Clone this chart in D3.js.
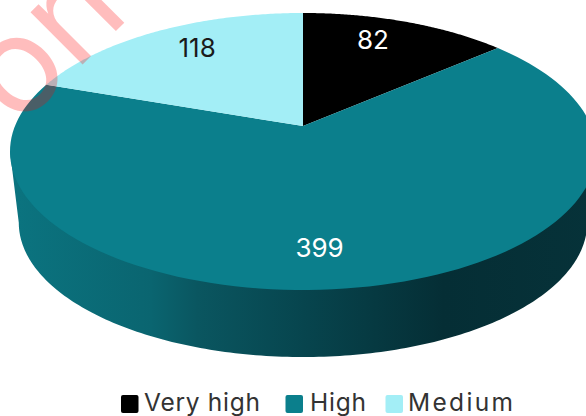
<!DOCTYPE html>
<html><head><meta charset="utf-8">
<script src="https://cdn.jsdelivr.net/npm/d3@7"></script>
<style>html,body{margin:0;padding:0;background:#fff}svg{display:block}</style>
</head><body><svg id="c" width="586" height="416"></svg>
<script>
const categories = ["Very high", "High", "Medium"];
const values = [82, 399, 118];
const colors = ["#000000", "#0b7f8c", "#a3eef6"];
const labelColors = ["#ffffff", "#ffffff", "#1a1a1a"];
const watermark = "on";

const svg = d3.select("#c");
const apex = {x: 303, y: 126}, a = 288, b = 133.8, k = 0.184;
const depth = 72, wallScale = 0.97;

function proj(t, r = 1, s = 1, dy = 0) {
  const u = r * Math.sin(t), v = r * Math.cos(t), w = 1 + k * v;
  return [apex.x + s * a * u / w, apex.y + dy - s * b * v / w];
}
const line = d3.line();
const pie = d3.pie().sort(null).value(d => d)(values);
const steps = d3.range(0, 1.0001, 1 / 120);

function wedge(d) {
  const pts = [[apex.x, apex.y]];
  steps.forEach(f => pts.push(proj(d.startAngle + f * (d.endAngle - d.startAngle))));
  return line(pts) + "Z";
}

const defs = svg.append("defs");
const grad = defs.append("linearGradient").attr("id", "wall")
  .attr("gradientUnits", "userSpaceOnUse").attr("x1", 10).attr("x2", 596).attr("y1", 0).attr("y2", 0);
[[0, "#0b7480"], [0.24, "#0a6570"], [0.32, "#0a5660"], [0.5, "#07454e"], [0.74, "#052e35"], [1, "#063239"]]
  .forEach(s => grad.append("stop").attr("offset", s[0]).attr("stop-color", s[1]));

// wall runs between the two silhouette points of the tilted disc; its upper edge tucks under the top face
const t0 = Math.PI / 2 + Math.asin(k), t1 = Math.PI * 1.5 - Math.asin(k);
const front = d3.range(0, 1.0001, 1 / 180).map(f => t0 + f * (t1 - t0));
const wallPts = front.map(t => proj(t, 0.985)).concat([proj(t1)], front.slice().reverse().map(t => proj(t, 1, wallScale, depth)), [proj(t0)]);
svg.append("path").attr("d", line(wallPts) + "Z").attr("fill", "url(#wall)");

svg.selectAll("path.slice").data(pie).join("path").attr("class", "slice")
  .attr("d", wedge).attr("fill", (d, i) => colors[i]);

// value labels, placed along each slice's sweep
const labelRadius = 0.78, labelSweep = [0.42, 0.53, 0.55];
svg.selectAll("text.val").data(pie).join("text").attr("class", "val")
  .attr("font-family", "Inter, 'Open Sans', sans-serif").attr("font-size", 26)
  .attr("text-anchor", "middle").attr("dominant-baseline", "central")
  .attr("fill", (d, i) => labelColors[i])
  .attr("transform", (d, i) => {
    const p = proj(d.startAngle + labelSweep[i] * (d.endAngle - d.startAngle), labelRadius);
    return `translate(${p[0]},${p[1]})`;
  })
  .text((d, i) => values[i]);

// legend
const lg = svg.append("g");
const legX = [121, 285.5, 385.5], textX = [144, 310, 408], textW = [116, 56, 105];
categories.forEach((c, i) => {
  lg.append("rect").attr("x", legX[i]).attr("y", 395).attr("width", 17.5).attr("height", 18).attr("rx", 2).attr("fill", colors[i]);
  lg.append("text").attr("x", textX[i]).attr("y", 411).attr("font-family", "Inter, sans-serif")
    .attr("font-size", 24.5).attr("textLength", textW[i]).attr("lengthAdjust", "spacing")
    .attr("fill", "#333").text(c);
});

// watermark
svg.append("text").attr("transform", "translate(18,129) rotate(-45)")
  .attr("font-family", "Inter, sans-serif").attr("font-size", 135)
  .attr("fill", "#ff0000").attr("fill-opacity", 0.26).text(watermark);
</script></body></html>
